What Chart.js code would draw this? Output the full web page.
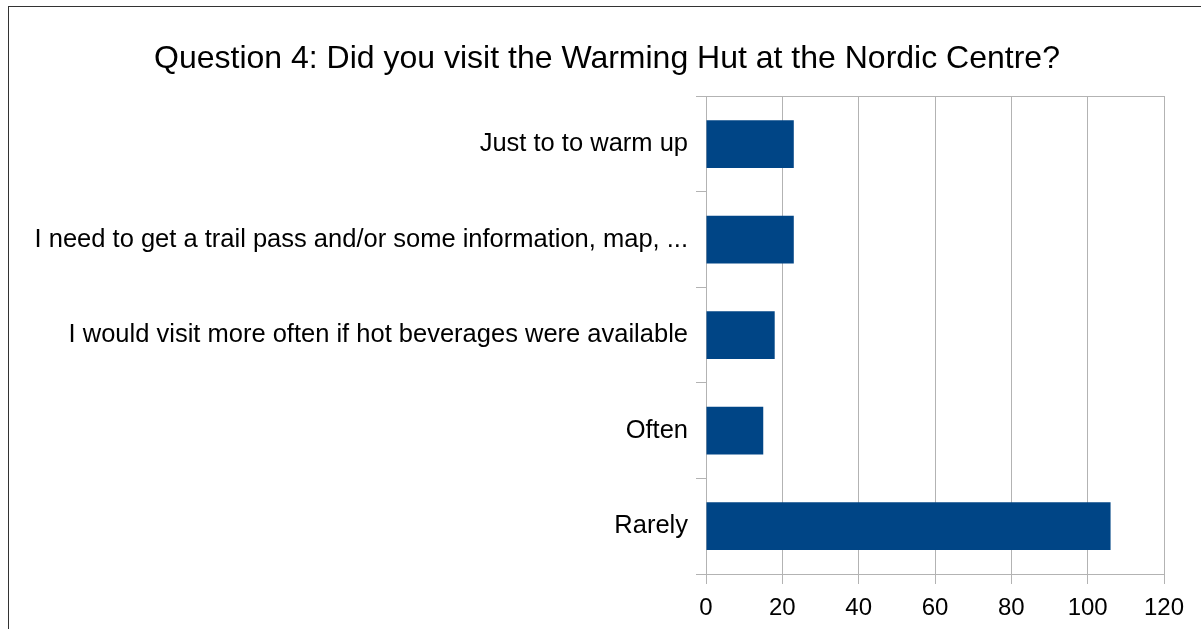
<!DOCTYPE html>
<html>
<head>
<meta charset="utf-8">
<script src="https://cdn.jsdelivr.net/npm/chart.js@4/dist/chart.umd.min.js"></script>
<style>
  html, body { margin: 0; padding: 0; background: #fff; overflow: hidden; }
  #frame { position: absolute; left: 8px; top: 6px; width: 1300px; height: 700px;
           border-left: 1px solid #333; border-top: 1px solid #333; }
  #wrap { position: absolute; left: 0; top: 0; width: 1201px; height: 629px; }
</style>
</head>
<body>
<div id="frame"></div>
<div id="wrap"><canvas id="chart" width="1201" height="629"></canvas></div>
<script>
// Question 4 survey responses — horizontal bar chart
var TITLE = "Question 4: Did you visit the Warming Hut at the Nordic Centre?";
var categories = [
  "Just to to warm up",
  "I need to get a trail pass and/or some information, map, ...",
  "I would visit more often if hot beverages were available",
  "Often",
  "Rarely"
];
var counts = [23, 23, 18, 15, 106];
var xTicks = [0, 20, 40, 60, 80, 100, 120];

var BAR = "#004586";
var GRID = "#b3b3b3";
var TEXT = "#000000";

Chart.defaults.font.family = "'Liberation Sans', Arial, sans-serif";
Chart.defaults.color = TEXT;

new Chart(document.getElementById("chart"), {
  type: "bar",
  data: {
    labels: categories,
    datasets: [{
      data: counts,
      backgroundColor: BAR,
      borderWidth: 0,
      categoryPercentage: 1.0,
      barPercentage: 0.5
    }]
  },
  options: {
    indexAxis: "y",
    responsive: false,
    animation: false,
    layout: { padding: { left: 13, right: 0, top: 0, bottom: 0 } },
    plugins: {
      legend: { display: false },
      tooltip: { enabled: false },
      title: {
        display: true,
        text: TITLE,
        color: TEXT,
        font: { size: 32, weight: "normal" },
        padding: { top: 40, bottom: 18 }
      }
    },
    scales: {
      x: {
        min: xTicks[0],
        max: xTicks[xTicks.length - 1],
        afterBuildTicks: function (s) { s.ticks = xTicks.map(function (v) { return { value: v }; }); },
        grid: { color: GRID, tickLength: 10, lineWidth: 1 },
        border: { color: GRID },
        ticks: { font: { size: 24 }, color: TEXT, padding: 10 },
        afterFit: function (s) { s.height = 629 - 574; s.paddingRight = 37; }
      },
      xTop: {
        position: "top",
        axis: "x",
        min: 0, max: 120,
        grid: { display: false },
        border: { display: true, color: GRID },
        ticks: { display: false },
        afterFit: function (s) { s.height = 0; }
      },
      y: {
        grid: { color: GRID, drawOnChartArea: false, tickLength: 10, offset: true },
        border: { color: GRID },
        ticks: { font: { size: 25.5 }, color: TEXT, padding: 8 },
        afterFit: function (s) { s.width = 693; }
      }
    }
  }
});
</script>
</body>
</html>
